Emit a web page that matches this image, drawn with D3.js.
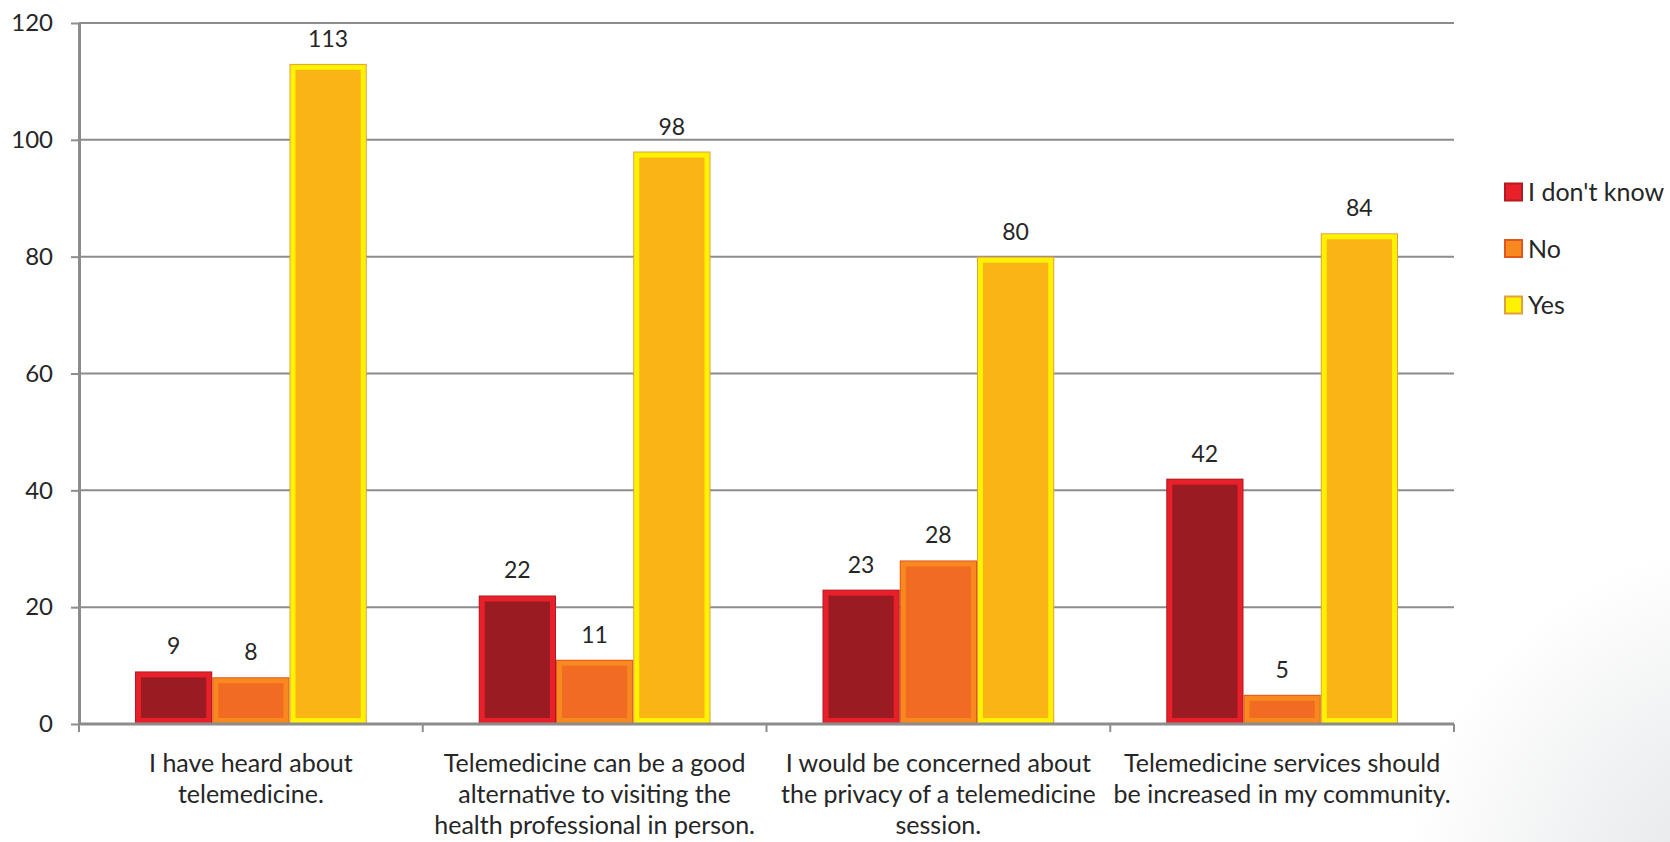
<!DOCTYPE html>
<html>
<head>
<meta charset="utf-8">
<script src="https://cdn.jsdelivr.net/npm/d3@7"></script>
<style>
  html, body { margin: 0; padding: 0; background: #fff; }
  svg { display: block; }
  text { font-family: Lato, "Open Sans", sans-serif; fill: #262626; }
</style>
</head>
<body>
<svg id="chart" width="1670" height="842"></svg>
<script>
// Survey statements (x categories), wrapped into lines
const categories = [
  ["I have heard about", "telemedicine."],
  ["Telemedicine can be a good", "alternative to visiting the", "health professional in person."],
  ["I would be concerned about", "the privacy of a telemedicine", "session."],
  ["Telemedicine services should", "be increased in my community."]
];
const seriesNames = ["I don't know", "No", "Yes"];
const dontKnow = [9, 22, 23, 42];
const no = [8, 11, 28, 5];
const yes = [113, 98, 80, 84];
const yTicks = [0, 20, 40, 60, 80, 100, 120];

const seriesValues = [dontKnow, no, yes];
const styles = [
  { edge: "#b31b22", border: "#e8202a", fill: "#9b1b22" },
  { edge: "#e0561e", border: "#f7891f", fill: "#f26b22" },
  { edge: "#e0a040", border: "#fff200", fill: "#fbb416" }
];

const svg = d3.select("#chart");
const W = 1670, H = 842;
const m = { left: 79, right: 216, top: 23, bottom: 118 };
const plotW = W - m.left - m.right;
const plotH = H - m.top - m.bottom;

// soft grey shading in the lower right corner
const defs = svg.append("defs");
const rg = defs.append("radialGradient").attr("id", "corner")
  .attr("gradientUnits", "userSpaceOnUse")
  .attr("cx", 1760).attr("cy", 900).attr("r", 360);
rg.append("stop").attr("offset", "0").attr("stop-color", "#e2e3e5");
rg.append("stop").attr("offset", "0.55").attr("stop-color", "#f1f2f3");
rg.append("stop").attr("offset", "1").attr("stop-color", "#ffffff");
svg.append("rect").attr("width", W).attr("height", H).attr("fill", "url(#corner)");

const g = svg.append("g").attr("transform", `translate(${m.left},${m.top})`);

const x0 = d3.scaleBand().domain(d3.range(categories.length)).range([0, plotW]).paddingInner(0).paddingOuter(0);
const groupPad = 56;
const x1 = d3.scaleBand().domain(d3.range(seriesNames.length))
  .range([groupPad, x0.bandwidth() - groupPad]).padding(0);
const y = d3.scaleLinear().domain([0, 120]).range([plotH, 0]);

// horizontal gridlines
g.append("g").selectAll("line").data(yTicks.filter(t => t > 0)).join("line")
  .attr("x1", 0).attr("x2", plotW)
  .attr("y1", d => y(d)).attr("y2", d => y(d))
  .attr("stroke", "#8c8c8c").attr("stroke-width", 2);

// y axis
const yAxis = g.append("g").call(d3.axisLeft(y).tickValues(yTicks).tickSize(8).tickPadding(18).tickSizeOuter(0));
yAxis.select(".domain").attr("stroke", "#8c8c8c").attr("stroke-width", 3);
yAxis.selectAll(".tick line").attr("stroke", "#8c8c8c").attr("stroke-width", 2);
yAxis.selectAll(".tick text").style("font-size", "24px").attr("fill", "#262626")
  .style("font-family", "Lato, 'Open Sans', sans-serif");

// bars
const groups = g.append("g").selectAll("g").data(categories).join("g")
  .attr("transform", (d, i) => `translate(${x0(i)},0)`);

groups.each(function (d, ci) {
  const grp = d3.select(this);
  seriesValues.forEach((vals, si) => {
    const v = vals[ci];
    const bx = x1(si), bw = x1.bandwidth();
    const by = y(v), bh = y(0) - y(v);
    const st = styles[si];
    grp.append("rect").attr("x", bx).attr("y", by).attr("width", bw).attr("height", bh)
      .attr("fill", st.edge);
    grp.append("rect").attr("x", bx + 1).attr("y", by + 1).attr("width", bw - 2).attr("height", Math.max(0, bh - 2))
      .attr("fill", st.border);
    grp.append("rect").attr("x", bx + 6).attr("y", by + 6).attr("width", bw - 12).attr("height", Math.max(0, bh - 12))
      .attr("fill", st.fill);
    grp.append("text")
      .attr("x", bx + bw / 2).attr("y", by - 17)
      .attr("text-anchor", "middle")
      .style("font-size", "23px")
      .text(v);
  });
});

// x axis
const xAxisG = g.append("g").attr("transform", `translate(0,${plotH})`);
xAxisG.append("line").attr("x1", 0).attr("x2", plotW).attr("y1", 0).attr("y2", 0)
  .attr("stroke", "#8c8c8c").attr("stroke-width", 3);
xAxisG.selectAll("line.tick").data(d3.range(categories.length + 1)).join("line")
  .attr("class", "tick")
  .attr("x1", i => i < categories.length ? x0(i) : plotW)
  .attr("x2", i => i < categories.length ? x0(i) : plotW)
  .attr("y1", 0).attr("y2", 8)
  .attr("stroke", "#8c8c8c").attr("stroke-width", 2);

const labels = xAxisG.selectAll("text.cat").data(categories).join("text")
  .attr("class", "cat")
  .attr("text-anchor", "middle")
  .attr("x", (d, i) => x0(i) + x0.bandwidth() / 2)
  .attr("y", 48)
  .style("font-size", "25px");
labels.selectAll("tspan").data(d => d).join("tspan")
  .attr("x", function () { return d3.select(this.parentNode).attr("x"); })
  .attr("dy", (d, i) => i === 0 ? 0 : 31)
  .text(d => d);

// legend
const legend = svg.append("g").attr("transform", "translate(1504,192)");
const li = legend.selectAll("g").data(seriesNames).join("g")
  .attr("transform", (d, i) => `translate(0,${i * 56.5})`);
li.append("rect").attr("x", 0).attr("y", -9.5).attr("width", 19).attr("height", 19)
  .attr("fill", (d, i) => styles[i].edge);
li.append("rect").attr("x", 2).attr("y", -7.5).attr("width", 15).attr("height", 15)
  .attr("fill", (d, i) => styles[i].border);
li.append("text").attr("x", 24).attr("y", 9).style("font-size", "25px").text(d => d);
</script>
</body>
</html>
